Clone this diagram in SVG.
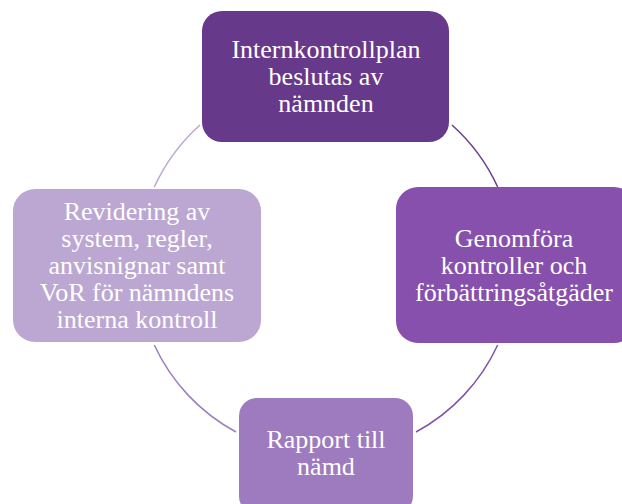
<svg xmlns="http://www.w3.org/2000/svg" width="622" height="504" viewBox="0 0 622 504">
<style>
.lbl{font-size:26px;fill:#ffffff;text-anchor:middle}
.arc{fill:none;stroke-width:1.5}
</style>
<rect width="622" height="504" fill="#ffffff"/>
<g id="connectors">
<path class="arc" stroke="#6a3b8c" d="M452,125 A189 189 0 0 1 497.7,187"/>
<path class="arc" stroke="#8150ac" d="M497.7,345 A189 189 0 0 1 416,432"/>
<path class="arc" stroke="#9d7cbf" d="M236,432 A189 189 0 0 1 154.3,345"/>
<path class="arc" stroke="#bba7d3" d="M154.3,187 A189 189 0 0 1 200,125"/>
</g>
<g font-family="'Liberation Serif', 'Times New Roman', serif">
<g id="node-top">
<rect x="202" y="11" width="247" height="131" rx="20" fill="#67398a"/>
<text class="lbl" x="326" y="58">Internkontrollplan</text>
<text class="lbl" x="326" y="85">beslutas av</text>
<text class="lbl" x="326" y="112">nämnden</text>
</g>
<g id="node-right">
<rect x="396" y="187" width="240" height="156" rx="22" fill="#8650ac"/>
<text class="lbl" x="514" y="247">Genomföra</text>
<text class="lbl" x="514" y="274">kontroller och</text>
<text class="lbl" x="514" y="301">förbättringsåtgäder</text>
</g>
<g id="node-bottom">
<rect x="239" y="398" width="174" height="116" rx="18" fill="#9d7bbe"/>
<text class="lbl" x="326" y="448">Rapport till</text>
<text class="lbl" x="326" y="475">nämd</text>
</g>
<g id="node-left">
<rect x="13" y="189" width="248" height="153" rx="22" fill="#bba7d2"/>
<text class="lbl" x="137" y="220">Revidering av</text>
<text class="lbl" x="137" y="247">system, regler,</text>
<text class="lbl" x="137" y="274">anvisnignar samt</text>
<text class="lbl" x="137" y="301">VoR för nämndens</text>
<text class="lbl" x="137" y="328">interna kontroll</text>
</g>
</g>
</svg>
